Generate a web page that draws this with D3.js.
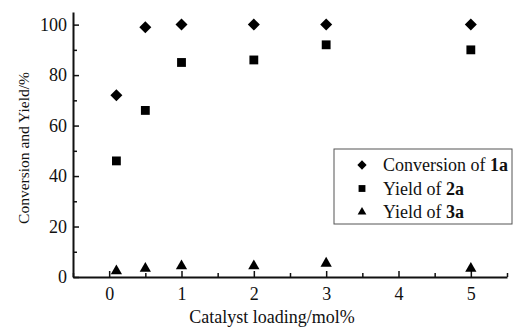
<!DOCTYPE html>
<html>
<head>
<meta charset="utf-8">
<script src="https://cdn.jsdelivr.net/npm/d3@7"></script>
<style>
  body { margin: 0; background: #fff; }
  text { font-family: "Liberation Serif", "Times New Roman", serif; fill: #111; }
</style>
</head>
<body>
<svg id="chart" width="514" height="329"></svg>
<script>
// catalyst loading vs conversion / yield

var loading = [0.1, 0.5, 1, 2, 3, 5];
var conversion1a = [72, 99, 100, 100, 100, 100];
var yield2a = [46, 66, 85, 86, 92, 90];
var yield3a = [2, 3, 4, 4, 5, 3];

var xTicks = [0, 1, 2, 3, 4, 5];
var xMinor = [-0.5, 0.5, 1.5, 2.5, 3.5, 4.5, 5.5];
var yTicks = [0, 20, 40, 60, 80, 100];
var yMinor = [10, 30, 50, 70, 90];

var series = [
  {name: "Conversion of ", bold: "1a", values: conversion1a, shape: d3.symbolSquare, rot: 45, size: 72},
  {name: "Yield of ", bold: "2a", values: yield2a, shape: d3.symbolSquare, rot: 0, size: 78},
  {name: "Yield of ", bold: "3a", values: yield3a, shape: d3.symbolTriangle, rot: 0, size: 55}
];

var svg = d3.select("#chart");
var margin = {top: 12, right: 7, bottom: 52, left: 73};
var width = 514 - margin.left - margin.right;
var height = 329 - margin.top - margin.bottom;

var g = svg.append("g").attr("transform", "translate(" + margin.left + "," + margin.top + ")");

var x = d3.scaleLinear().domain([-0.5, 5.5]).range([0, width]);
var y = d3.scaleLinear().domain([0, 105]).range([height, 0]);

// axes - ticks point inward
g.append("g")
    .attr("transform", "translate(0," + height + ")")
    .call(d3.axisBottom(x).tickValues(xTicks).tickFormat(d3.format("d")).tickSizeInner(-6).tickSizeOuter(0).tickPadding(10));
g.append("g")
    .attr("transform", "translate(0," + height + ")")
    .call(d3.axisBottom(x).tickValues(xMinor).tickSizeInner(-4).tickSizeOuter(0).tickFormat(""))
    .select(".domain").remove();

g.append("g")
    .call(d3.axisLeft(y).tickValues(yTicks).tickFormat(d3.format("d")).tickSizeInner(-6).tickSizeOuter(0).tickPadding(6));
g.append("g")
    .call(d3.axisLeft(y).tickValues(yMinor).tickSizeInner(-4).tickSizeOuter(0).tickFormat(""))
    .select(".domain").remove();

g.selectAll(".domain").attr("stroke", "#111").attr("stroke-width", 2);
g.selectAll(".tick line").attr("stroke", "#111").attr("stroke-width", 1.5);
g.selectAll(".tick text")
    .attr("fill", "#111")
    .style("font-family", "'Liberation Serif', 'Times New Roman', serif")
    .style("font-size", "18px");

// axis titles
svg.append("text")
    .attr("x", 272)
    .attr("y", 323)
    .attr("text-anchor", "middle")
    .style("font-size", "18px")
    .text("Catalyst loading/mol%");

svg.append("text")
    .attr("transform", "translate(29,148) rotate(-90)")
    .attr("text-anchor", "middle")
    .style("font-size", "15.5px")
    .text("Conversion and Yield/%");

// points
series.forEach(function(s) {
  var sym = d3.symbol().type(s.shape).size(s.size);
  g.selectAll(null)
    .data(s.values)
    .enter().append("path")
      .attr("d", sym)
      .attr("fill", "#000")
      .attr("transform", function(d, i) {
        var dy = s.shape === d3.symbolTriangle ? -1 : 0;
        return "translate(" + x(loading[i]) + "," + (y(d) + dy) + ") rotate(" + s.rot + ")";
      });
});

// legend
var legend = svg.append("g").attr("transform", "translate(334,149)");
legend.append("rect")
    .attr("width", 178)
    .attr("height", 75)
    .attr("fill", "#fff")
    .attr("stroke", "#555")
    .attr("stroke-width", 1);

series.forEach(function(s, i) {
  var row = legend.append("g").attr("transform", "translate(0," + (16 + i * 23.5) + ")");
  row.append("path")
      .attr("d", d3.symbol().type(s.shape).size(s.size * 0.6))
      .attr("transform", "translate(28,0) rotate(" + s.rot + ")")
      .attr("fill", "#000");
  var t = row.append("text")
      .attr("x", 49)
      .attr("y", 6)
      .style("font-size", "18px");
  t.append("tspan").text(s.name);
  t.append("tspan").style("font-weight", "bold").text(s.bold);
});
</script>
</body>
</html>
